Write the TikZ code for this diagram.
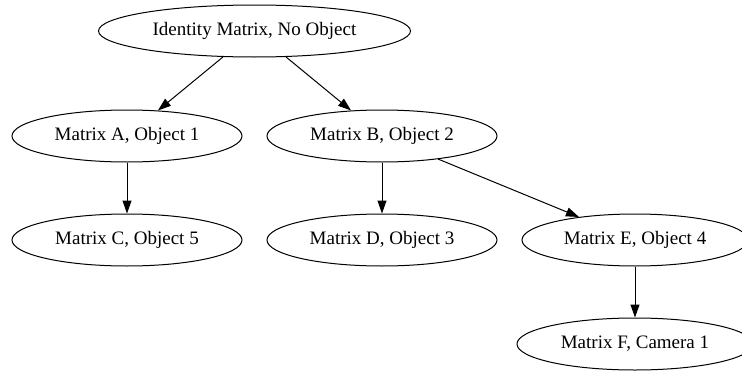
\documentclass[tikz,border=0pt]{standalone}
\usepackage{fontspec}
\setmainfont{Liberation Serif}
\usetikzlibrary{arrows.meta,calc,positioning,shapes.geometric}
\tikzset{%
	matnode/.style = {draw, ellipse, line width=1pt, inner sep=0pt, minimum width=230pt, minimum height=52pt, font=\fontsize{19}{23}\selectfont}, % Matrix node
	rootnode/.style = {matnode, minimum width=312pt}, % Root
	edge/.style    = {line width=1pt, -{Triangle[length=13pt,width=9pt]}},
}
\begin{document}
\begin{tikzpicture}[x=1pt,y=1pt,node distance=255pt]
	\useasboundingbox (0,0) rectangle (742,-372);
	\node [matnode] (ma) at (127,-136) {Matrix A, Object 1};
	\node [matnode] (mb) [right of=ma] {Matrix B, Object 2};
	\node [matnode] (mc) [below of=ma,node distance=104pt] {Matrix C, Object 5};
	\node [matnode] (md) [below of=mb,node distance=104pt] {Matrix D, Object 3};
	\node [matnode,minimum width=226pt] (me) [right of=md,node distance=253pt] {Matrix E, Object 4};
	\node [matnode,minimum width=236pt] (mf) [below of=me,node distance=104pt] {Matrix F, Camera 1};
	\node [rootnode] (id) at ($(ma)!0.5!(mb)+(0,105)$) {Identity Matrix, No Object};

	\draw[edge] (id) -- (ma);
	\draw[edge] (id) -- (mb);
	\draw[edge] (ma) -- (mc);
	\draw[edge] (mb) -- (md);
	\draw[edge] (mb) -- (me);
	\draw[edge] (me) -- (mf);
\end{tikzpicture}
\end{document}
